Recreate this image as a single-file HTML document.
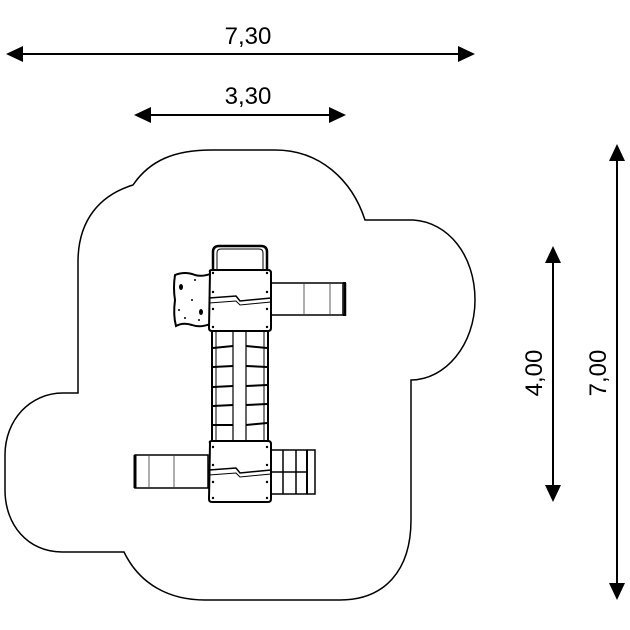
<!DOCTYPE html>
<html><head><style>html,body{margin:0;padding:0;background:#fff}svg{display:block}</style></head><body>
<svg width="630" height="630" viewBox="0 0 630 630" xmlns="http://www.w3.org/2000/svg" font-family="Liberation Sans, sans-serif">
<!-- dimensions -->
<g stroke="#000" stroke-width="2" fill="#000">
<line x1="20" y1="54" x2="460" y2="54"/>
<polygon points="6,54 23,46 23,62" stroke="none"/>
<polygon points="475,54 458,46 458,62" stroke="none"/>
<line x1="148" y1="115" x2="332" y2="115"/>
<polygon points="134,115 151,107 151,123" stroke="none"/>
<polygon points="346,115 329,107 329,123" stroke="none"/>
<line x1="617" y1="158" x2="617" y2="586"/>
<polygon points="617,144 609,161 625,161" stroke="none"/>
<polygon points="617,600 609,583 625,583" stroke="none"/>
<line x1="553" y1="260" x2="553" y2="488"/>
<polygon points="553,246 545,263 561,263" stroke="none"/>
<polygon points="553,502 545,485 561,485" stroke="none"/>
</g>
<g font-size="24" fill="#000" text-anchor="middle">
<text x="248" y="44">7,30</text>
<text x="248" y="104">3,30</text>
<text transform="translate(542,373) rotate(-90)">4,00</text>
<text transform="translate(606,373) rotate(-90)">7,00</text>
</g>
<!-- outer boundary -->
<path d="M133,185 C150,160 175,150 212,150 L275,150 C320,150 352,180 365,220 L413,220 C448,222 475,255 475,300 C475,345 445,380 411,380 L411,520 C411,570 385,600 340,600 L205,600 C170,600 140,585 124,552 L62,552 C28,552 5,525 5,490 L5,455 C5,420 30,393 63,393 L78,393 L78,262 C78,220 100,195 133,185 Z" fill="none" stroke="#000" stroke-width="1.5"/>
<!-- structure -->
<g fill="#fff" stroke="#000" stroke-width="2">
<path d="M213,270 L213,252 Q213,246 219,246 L261,246 Q267,246 267,252 L267,270" fill="none" stroke-width="2.5"/>
<path d="M217,270 L217,253 Q217,249 221,249 L259,249 Q263,249 263,253 L263,270" fill="none" stroke-width="1"/>
<!-- ladder middle -->
<rect x="212" y="330" width="56" height="112"/>
<line x1="216" y1="330" x2="216" y2="442" stroke-width="1"/>
<line x1="264" y1="330" x2="264" y2="442" stroke-width="1"/>
<line x1="233" y1="330" x2="233" y2="442" stroke-width="1.2"/>
<line x1="246" y1="330" x2="246" y2="442" stroke-width="1.2"/>
<g stroke-width="2">
<path d="M213,348 L233,346 M246,346 L267,348"/>
<path d="M213,367 L233,366 M246,366 L267,367"/>
<path d="M213,387 L233,386 M246,386 L267,385"/>
<path d="M213,406 L233,405 M246,405 L267,404"/>
<path d="M213,425 L233,425 M246,425 L267,423"/>
</g>
<!-- climbing wall -->
<path d="M175,275 Q185,271 195,275 Q202,277 210,274 L210,324 Q200,328 192,325 Q183,322 176,326 Q173,315 175,300 Q173,288 175,275 Z"/>
<!-- top slide -->
<rect x="271" y="283" width="72" height="32" stroke-width="1.5"/>
<line x1="304" y1="284" x2="304" y2="314" stroke="#777" stroke-width="1.2"/>
<line x1="330" y1="284" x2="330" y2="314" stroke="#777" stroke-width="1.2"/>
<line x1="343" y1="283" x2="346" y2="283"/><line x1="343" y1="315" x2="346" y2="315"/>
<line x1="345" y1="283" x2="345" y2="316" stroke-width="2.5"/>
<!-- bottom slide -->
<rect x="135" y="455" width="73" height="33" stroke-width="1.5"/>
<line x1="135" y1="455" x2="135" y2="488" stroke-width="3"/>
<line x1="149" y1="456" x2="149" y2="487" stroke="#777" stroke-width="1.2"/>
<line x1="174" y1="456" x2="174" y2="487" stroke="#777" stroke-width="1.2"/>
<!-- bottom ladder -->
<rect x="271" y="450" width="44" height="44" fill="none" stroke-width="1.5"/>
<line x1="283" y1="450" x2="283" y2="494" stroke-width="1.5"/>
<line x1="296" y1="450" x2="296" y2="494" stroke-width="1.5"/>
<line x1="307" y1="450" x2="307" y2="494" stroke-width="2"/>
<line x1="271" y1="472" x2="307" y2="472" stroke-width="1.5"/>
<!-- platforms -->
<path d="M210,272 Q209,270 212,270 L268,270 Q271,270 271,273 L271,328 Q271,331 268,331 L212,331 Q209,331 209,328 Z"/>
<path d="M209,298 L236,296 L240,301 L271,298" fill="none" stroke-width="1.5"/>
<path d="M209,303 L236,301 L240,305 L271,302" fill="none" stroke-width="1"/>
<path d="M210,443 Q209,441 212,441 L268,441 Q271,441 271,444 L271,499 Q271,502 268,502 L212,502 Q209,502 209,499 Z"/>
<path d="M209,470 L236,468 L240,473 L271,470" fill="none" stroke-width="1.5"/>
<path d="M209,475 L236,473 L240,477 L271,474" fill="none" stroke-width="1"/>
</g>
<g fill="#000">
<circle cx="213" cy="273" r="1.2"/><circle cx="267" cy="273" r="1.2"/><circle cx="213" cy="292" r="1.2"/><circle cx="267" cy="292" r="1.2"/><circle cx="213" cy="309" r="1.2"/><circle cx="267" cy="309" r="1.2"/><circle cx="213" cy="327" r="1.2"/><circle cx="267" cy="327" r="1.2"/>
<circle cx="213" cy="447" r="1.2"/><circle cx="267" cy="447" r="1.2"/><circle cx="213" cy="465" r="1.2"/><circle cx="267" cy="465" r="1.2"/><circle cx="213" cy="482" r="1.2"/><circle cx="267" cy="482" r="1.2"/><circle cx="213" cy="498" r="1.2"/><circle cx="267" cy="498" r="1.2"/>
<ellipse cx="181" cy="287" rx="2" ry="3"/><ellipse cx="201" cy="312" rx="2" ry="3"/>
<circle cx="195" cy="280" r="1"/><circle cx="192" cy="300" r="1"/><circle cx="179" cy="310" r="1"/><circle cx="185" cy="318" r="1"/><circle cx="199" cy="320" r="1"/>
</g>
</svg>
</body></html>
